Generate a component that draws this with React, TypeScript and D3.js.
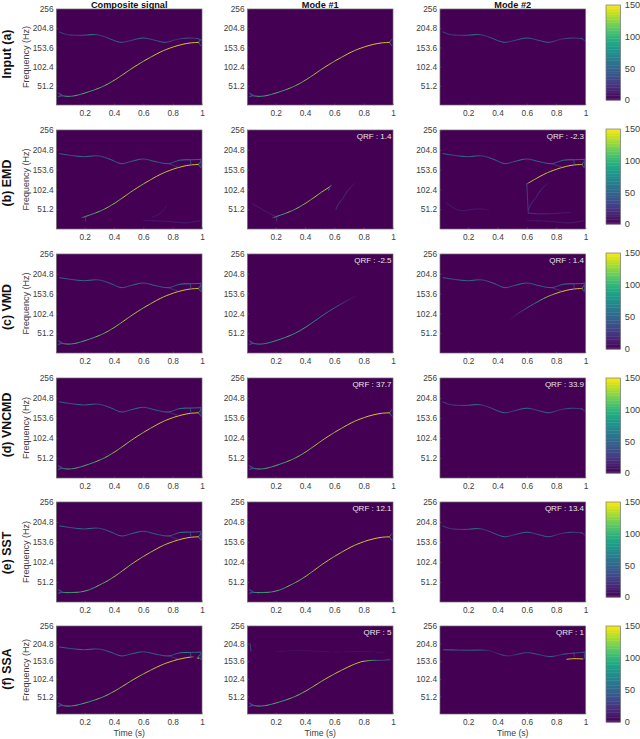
import React, { useEffect, useRef } from "react";
import * as d3 from "d3";

const freqTicks = [51.2, 102.4, 153.6, 204.8, 256];
const timeTicks = [0.2, 0.4, 0.6, 0.8, 1];
const colorTicks = [0, 50, 100, 150];
const columnTitles = ["Composite signal", "Mode #1", "Mode #2"];
const rowTitles = ["Input (a)", "(b) EMD", "(c) VMD", "(d) VNCMD", "(e) SST", "(f) SSA"];
const qrfLabels = [
  [null, null],
  ["QRF : 1.4", "QRF : -2.3"],
  ["QRF : -2.5", "QRF : 1.4"],
  ["QRF : 37.7", "QRF : 33.9"],
  ["QRF : 12.1", "QRF : 13.4"],
  ["QRF : 5", "QRF : 1"],
];

// times at which the ridge intensity was read
const ampT = [0.02, 0.05, 0.08, 0.11, 0.14, 0.17, 0.2, 0.23, 0.26, 0.29, 0.32, 0.35, 0.38, 0.41, 0.44, 0.47, 0.5, 0.53, 0.56, 0.59, 0.62, 0.65, 0.68, 0.71, 0.74, 0.77, 0.8, 0.83, 0.86, 0.89, 0.92, 0.95, 0.98];

// ridge of the chirp component
const chirpT = [0.026, 0.05, 0.088, 0.13, 0.168, 0.23, 0.304, 0.36, 0.41, 0.46, 0.51, 0.56, 0.6, 0.65, 0.69, 0.74, 0.78, 0.83, 0.87, 0.92, 0.98];
const chirpF = [26.7, 24.5, 23, 24.5, 28, 35.5, 46, 56.5, 68, 81, 94.5, 107, 116.5, 127.5, 136, 145.5, 151.5, 158, 162, 165.5, 167];
const sstChirpF = [25, 24.5, 24, 24.5, 25.5, 31, 44, 55, 67, 80.5, 94.5, 107, 116.5, 127.5, 136, 145.5, 151.5, 158, 162, 165.5, 167];
const chirpA = [40, 70, 110, 90, 115, 85, 120, 95, 100, 125, 90, 130, 105, 140, 110, 145, 120, 135, 148, 115, 150, 125, 145, 150, 130, 150, 140, 150, 145, 150, 150, 145, 150];
const vmdDownA = [45, 70, 85, 75, 95, 85, 100, 95, 90, 110, 85, 100, 95, 105, 80, 90, 75, 80, 60, 60, 45, 35, 22, 10, 5, 0, 0, 0, 0, 0, 0, 0, 0];
const vmdUpA = [0, 0, 0, 0, 0, 0, 0, 0, 0, 0, 0, 0, 0, 0, 0, 0, 8, 18, 28, 45, 70, 60, 90, 110, 130, 120, 145, 150, 150, 145, 150, 150, 150];

// ridge of the slowly varying component
const toneT = [0.026, 0.076, 0.13, 0.19, 0.28, 0.35, 0.4, 0.45, 0.51, 0.6, 0.69, 0.75, 0.83, 0.9, 0.98];
const toneF = [195, 188, 186, 186, 187.6, 180, 172, 167, 171.5, 178.7, 171.5, 167, 175, 178.5, 177];
const toneA = [60, 45, 25, 40, 30, 45, 55, 80, 70, 35, 30, 45, 55, 60, 70, 40, 30, 45, 60, 70, 55, 35, 45, 60, 65, 45, 30, 20, 35, 55, 40, 30, 60];

// tone seen through a noisier decomposition, rising at the end
const tailT = [0.026, 0.1, 0.19, 0.295, 0.375, 0.45, 0.52, 0.6, 0.69, 0.77, 0.85, 0.92, 0.995];
const tailF = [195, 190.7, 187, 189, 180, 169, 175, 181, 173.5, 169, 178, 179, 180];
const tailA = [60, 65, 55, 40, 60, 70, 45, 75, 60, 35, 40, 55, 70, 45, 65, 50, 40, 65, 75, 50, 40, 55, 65, 45, 60, 70, 40, 55, 75, 85, 70, 60, 70];

// SSA keeps the tone flat at first and loses parts of it
const ssaToneT = [0.03, 0.18, 0.34, 0.4, 0.465, 0.53, 0.6, 0.68, 0.76, 0.85, 0.92, 0.995];
const ssaToneF = [187, 185.5, 184.5, 176, 169, 173, 178.7, 173, 167, 174, 177, 180];
const ssaToneA = [65, 70, 80, 60, 45, 55, 50, 60, 65, 55, 25, 12, 15, 25, 50, 20, 15, 40, 55, 35, 40, 60, 45, 30, 50, 65, 30, 25, 70, 45, 60, 40, 50];

// little forks where the two ridges come close at the end
const dropT = [0.77, 0.8, 0.84];
const dropF = [169, 165, 160];
const dropA = [30, 22, 28];
const forkAT = [0.92, 0.925];
const forkAF = [179, 166];
const forkAA = [42, 28];
const forkBT = [0.99, 0.995];
const forkBF = [182, 160];
const forkBA = [32, 45];
const capUpT = [0.975, 0.995];
const capUpF = [167, 176];
const capUpA = [90, 40];
const capDownF = [167, 157];
const startUpT = [0.018, 0.05];
const startUpF = [32, 26];
const startUpA = [50, 40];
const startDownF = [22, 25];
const toneCapF = [177, 171];
const toneCapA = [45, 30];

// weak leakage traces in the EMD modes
const emdLeakT = [0.04, 0.12, 0.2];
const emdLeakF = [66, 48, 32];
const emdLeakA = [14, 12, 18];
const emdStemT = [0.205, 0.208];
const emdStemF = [33, 20];
const emdStemA = [30, 18];
const emdTipT = [0.56, 0.575];
const emdTipF = [99, 114];
const emdTipA = [70, 30];
const emdRiseT = [0.61, 0.63, 0.66, 0.685, 0.74];
const emdRiseF = [49, 66, 80, 96, 118];
const emdRiseA = [32, 28, 18, 24, 14];
const emdStem2T = [0.6, 0.61];
const emdStem2F = [118, 40];
const emdStem2A = [38, 26];
const emdFootT = [0.61, 0.7, 0.82, 0.9];
const emdFootF = [41, 39, 41, 43];
const emdFootA = [32, 20, 14, 10];
const emdLowT = [0.6, 0.75, 0.9, 0.99];
const emdLowF = [22, 20, 16, 22];
const emdLowA = [10, 12, 12, 16];
const emdGhostT = [0.05, 0.14, 0.26, 0.34];
const emdGhostF = [68, 48, 52, 50];
const emdGhostA = [12, 10, 12, 8];
const emdBumpT = [0.66, 0.72, 0.76];
const emdBumpF = [30, 42, 62];
const emdBumpA = [10, 12, 8];

// end of the SSA modes
const ssaFlatT = [0.78, 0.82, 0.86, 0.92, 0.98];
const ssaFlatF = [152, 154.5, 156, 156, 158];
const ssaFlatA = [140, 125, 90, 28, 60];
const ssaBandT = [0.87, 0.92, 0.985];
const ssaBandF = [159, 161, 160];
const ssaBandA = [145, 150, 150];
const ssaBlobT = [0.026, 0.032];
const ssaBlobF = [205, 182];
const ssaBlobA = [38, 32];
const ssaGhostT = [0.2, 0.4, 0.6, 0.8, 0.95];
const ssaGhostF = [182, 184, 180, 182, 178];
const ssaGhostA = [5, 6, 5, 6, 5];
const ssaGlowT = [0.965, 0.98];
const ssaGlowF = [163, 162];
const ssaGlowA = [120, 150];

type Track = { t: number[]; f: number[]; a: number[]; at?: number[]; from?: number; to?: number };

const chirp = (from = 0, to = 1, a = chirpA, f = chirpF): Track => ({ t: chirpT, f, a, at: ampT, from, to });
const tone: Track = { t: toneT, f: toneF, a: toneA, at: ampT };
const tail: Track = { t: tailT, f: tailF, a: tailA, at: ampT };
const ssaTone: Track = { t: ssaToneT, f: ssaToneF, a: ssaToneA, at: ampT };
const mark = (t: number[], f: number[], a: number[]): Track => ({ t, f, a, at: t });

const startFan = [mark(startUpT, startUpF, startUpA), mark(startUpT, startDownF, startUpA)];
const endCap = [mark(capUpT, capUpF, capUpA), mark(capUpT, capDownF, capUpA)];
const toneCap = [mark(capUpT, toneCapF, toneCapA)];
const forks = [mark(dropT, dropF, dropA), mark(forkAT, forkAF, forkAA), mark(forkBT, forkBF, forkBA)];

const panels: Track[][][] = [
  [
    [tone, chirp(), ...startFan, ...endCap, ...toneCap],
    [chirp(), ...startFan, ...endCap],
    [tone, ...toneCap],
  ],
  [
    [tail, chirp(0.2), ...forks, ...endCap, mark(emdStemT, emdStemF, emdStemA), mark(emdLowT, emdLowF, emdLowA), mark(emdBumpT, emdBumpF, emdBumpA)],
    [chirp(0.2, 0.57), mark(emdTipT, emdTipF, emdTipA), mark(emdStemT, emdStemF, emdStemA), mark(emdLeakT, emdLeakF, emdLeakA), mark(emdRiseT, emdRiseF, emdRiseA)],
    [tail, chirp(0.6), ...forks, ...endCap, mark(emdStem2T, emdStem2F, emdStem2A), mark(emdRiseT, emdRiseF, emdRiseA), mark(emdFootT, emdFootF, emdFootA), mark(emdLowT, emdLowF, emdLowA), mark(emdGhostT, emdGhostF, emdGhostA)],
  ],
  [
    [tail, chirp(), ...forks, ...startFan, ...endCap],
    [chirp(0, 1, vmdDownA), ...startFan],
    [tail, chirp(0, 1, vmdUpA), ...forks, ...endCap],
  ],
  [
    [tail, chirp(), ...forks, ...startFan, ...endCap],
    [chirp(), ...startFan, ...endCap],
    [tone, ...toneCap],
  ],
  [
    [tail, chirp(0, 1, chirpA, sstChirpF), ...forks, ...startFan, ...endCap],
    [chirp(0, 1, chirpA, sstChirpF), ...startFan, ...endCap],
    [tone, ...toneCap],
  ],
  [
    [tail, chirp(0, 0.93), ...forks, ...startFan, mark(ssaGlowT, ssaGlowF, ssaGlowA), ...endCap],
    [chirp(0, 0.78), mark(ssaFlatT, ssaFlatF, ssaFlatA), mark(ssaBlobT, ssaBlobF, ssaBlobA), mark(ssaGhostT, ssaGhostF, ssaGhostA), ...startFan],
    [ssaTone, mark(ssaBandT, ssaBandF, ssaBandA), ...forks.slice(1)],
  ],
];

const rowTops = [9, 130, 254, 378, 502, 626];
const rowHeights = [96, 99, 99, 100, 100, 88];
const rowTitleCenters = [54, 183, 307, 425, 553, 669];
const barTops = [5, 129, 253, 378, 502, 626];
const barHeights = [95, 95, 96, 95, 95, 96];
const columnLefts = [56.5, 247.5, 440];
const panelWidth = 145.5;

export default function App() {
  const svgRef = useRef<SVGSVGElement>(null);

  useEffect(() => {
    const svg = d3.select(svgRef.current);
    svg.selectAll("*").remove();
    const defs = svg.append("defs");
    const color = d3.scaleSequential(d3.interpolateViridis).domain([0, 150]);
    const font = "'Liberation Sans', Arial, sans-serif";
    defs
      .append("filter")
      .attr("id", "soft")
      .attr("x", "-5%")
      .attr("y", "-5%")
      .attr("width", "110%")
      .attr("height", "110%")
      .append("feGaussianBlur")
      .attr("stdDeviation", 0.25);
    let gid = 0;

    rowTops.forEach((top, r) => {
      const h = rowHeights[r];
      const y = d3.scaleLinear().domain([0, 256]).range([top + h, top]);

      columnLefts.forEach((left, c) => {
        const x = d3.scaleLinear().domain([0.008, 1]).range([left, left + panelWidth]);

        svg.append("rect").attr("x", left).attr("y", top).attr("width", panelWidth).attr("height", h).attr("fill", color(0));

        const clipId = `panel-${r}-${c}`;
        defs.append("clipPath").attr("id", clipId).append("rect").attr("x", left).attr("y", top).attr("width", panelWidth).attr("height", h);
        const g = svg.append("g").attr("clip-path", `url(#${clipId})`).append("g").attr("filter", "url(#soft)");

        panels[r][c].forEach((track) => {
          const pts = track.t.map((t, i) => ({ t, f: track.f[i] }));
          const at = track.at ?? track.t;
          const from = track.from ?? 0;
          const to = track.to ?? 1;
          const t0 = Math.min(at[0], track.t[0]);
          const t1 = Math.max(at[at.length - 1], track.t[track.t.length - 1]);
          const id = `ridge-${gid++}`;
          const grad = defs
            .append("linearGradient")
            .attr("id", id)
            .attr("gradientUnits", "userSpaceOnUse")
            .attr("x1", x(t0))
            .attr("x2", x(t1))
            .attr("y1", 0)
            .attr("y2", 0);
          const offset = (t: number) => (t - t0) / (t1 - t0);
          at.forEach((t, i) => {
            const inside = t >= from && t <= to;
            grad.append("stop").attr("offset", offset(t)).attr("stop-color", color(track.a[i])).attr("stop-opacity", inside ? 1 : 0);
          });
          const line = d3
            .line<{ t: number; f: number }>()
            .x((d) => x(d.t))
            .y((d) => y(d.f))
            .curve(d3.curveCatmullRom.alpha(0.5));
          g.append("path")
            .attr("d", line(pts))
            .attr("fill", "none")
            .attr("stroke", `url(#${id})`)
            .attr("stroke-width", 0.85);
        });

        // axes
        const axisColor = "#6a6a6a";
        const yAxis = svg.append("g").attr("transform", `translate(${left},0)`).call(d3.axisLeft(y).tickValues(freqTicks).tickSize(-1.5).tickPadding(3).tickFormat((d) => String(d)));
        const xAxis = svg.append("g").attr("transform", `translate(0,${top + h})`).call(d3.axisBottom(x).tickValues(timeTicks).tickSize(-1.5).tickPadding(5.5).tickFormat((d) => String(d)));
        [yAxis, xAxis].forEach((a) => {
          a.select(".domain").remove();
          a.selectAll("line").attr("stroke", axisColor).attr("stroke-width", 0.5);
          a.selectAll("text").attr("fill", "#404040").attr("font-size", 8.3).attr("font-family", font);
        });
        svg.append("rect").attr("x", left).attr("y", top).attr("width", panelWidth).attr("height", h).attr("fill", "none").attr("stroke", axisColor).attr("stroke-width", 0.7);

        if (c > 0 && qrfLabels[r][c - 1]) {
          svg.append("text")
            .attr("x", left + panelWidth - 1.5)
            .attr("y", top + 9)
            .attr("text-anchor", "end")
            .attr("fill", "#e6e6e6")
            .attr("font-size", 8)
            .attr("font-family", font)
            .text(qrfLabels[r][c - 1] as string);
        }
        if (r === 0) {
          svg.append("text")
            .attr("x", left + panelWidth / 2)
            .attr("y", 7.5)
            .attr("text-anchor", "middle")
            .attr("font-weight", "bold")
            .attr("font-size", 9.2)
            .attr("font-family", font)
            .attr("fill", "#111")
            .text(columnTitles[c]);
        }
        if (r === rowTops.length - 1) {
          svg.append("text")
            .attr("x", left + panelWidth / 2)
            .attr("y", 736)
            .attr("text-anchor", "middle")
            .attr("font-size", 8.7)
            .attr("font-family", font)
            .attr("fill", "#404040")
            .text("Time (s)");
        }
      });

      svg.append("text")
        .attr("transform", `translate(29,${top + h / 2}) rotate(-90)`)
        .attr("text-anchor", "middle")
        .attr("font-size", 9)
        .attr("font-family", font)
        .attr("fill", "#404040")
        .text("Frequency (Hz)");

      svg.append("text")
        .attr("transform", `translate(11,${rowTitleCenters[r]}) rotate(-90)`)
        .attr("text-anchor", "middle")
        .attr("font-weight", "bold")
        .attr("font-size", 12.4)
        .attr("font-family", font)
        .attr("fill", "#111")
        .text(rowTitles[r]);

      // colorbar
      const barY = d3.scaleLinear().domain([0, 150]).range([barTops[r] + barHeights[r], barTops[r]]);
      const levels = d3.range(0, 150, 2.5);
      svg.append("g")
        .selectAll("rect")
        .data(levels)
        .enter()
        .append("rect")
        .attr("x", 606)
        .attr("width", 14.5)
        .attr("y", (d) => barY(d + 2.5))
        .attr("height", (d) => barY(d) - barY(d + 2.5) + 0.4)
        .attr("fill", (d) => color(d));
      svg.append("rect").attr("x", 606).attr("y", barTops[r]).attr("width", 14.5).attr("height", barHeights[r]).attr("fill", "none").attr("stroke", "#777").attr("stroke-width", 0.7);
      svg.append("g")
        .selectAll("text")
        .data(colorTicks)
        .enter()
        .append("text")
        .attr("x", 624.8)
        .attr("y", (d) => barY(d) + 3.4)
        .attr("font-size", 9.2)
        .attr("font-family", font)
        .attr("fill", "#404040")
        .text((d) => d);
    });
  }, []);

  return (
    <svg
      ref={svgRef}
      width={640}
      height={739}
      style={{ position: "absolute", left: 0, top: 0, background: "#fff" }}
    />
  );
}
